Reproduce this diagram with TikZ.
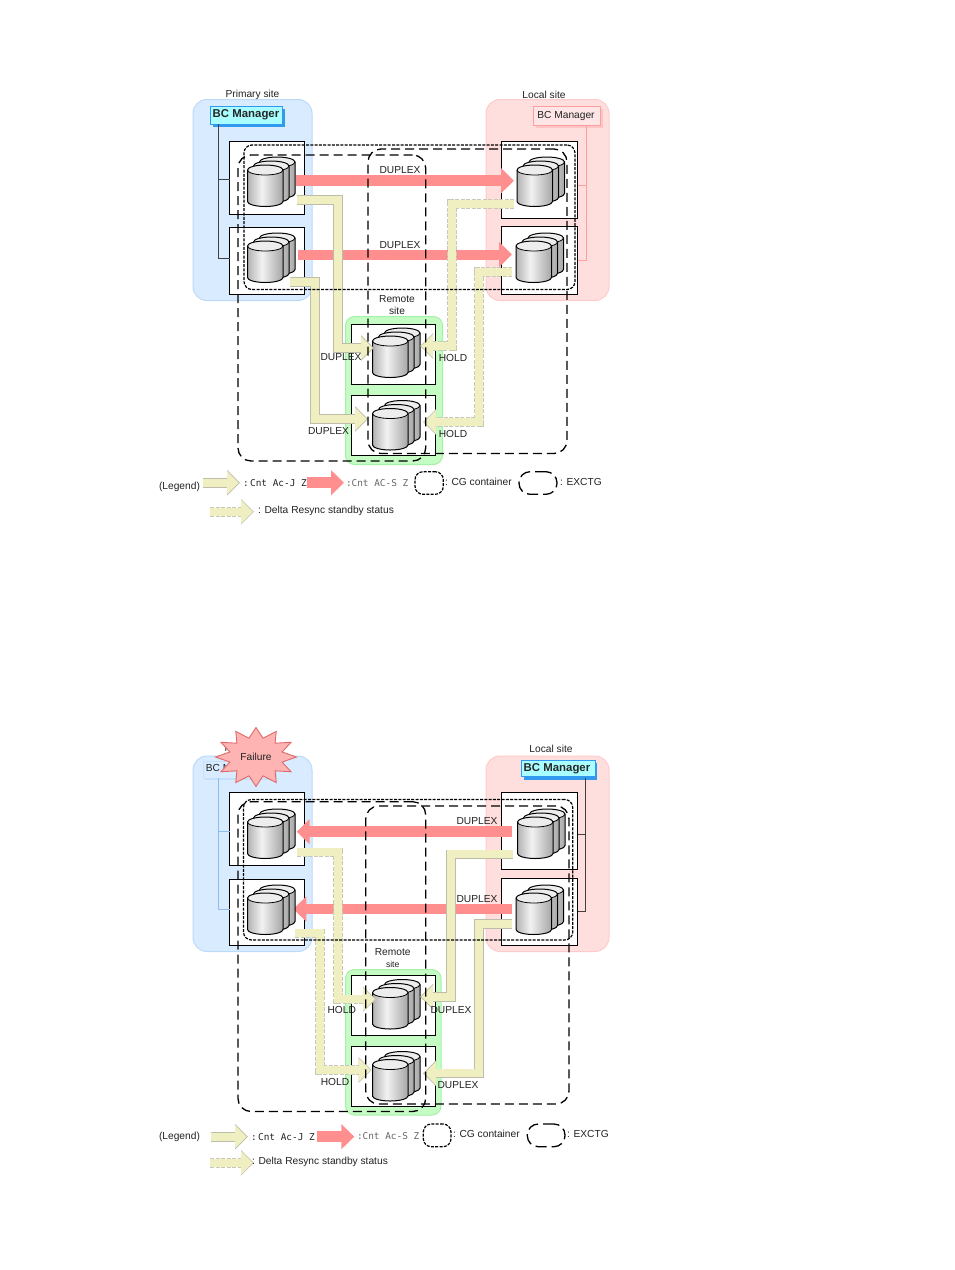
\documentclass[tikz,border=0pt]{standalone}
\usepackage{fontspec}
\setmainfont{Liberation Sans}
\setmonofont{DejaVu Sans Mono}
\usetikzlibrary{arrows.meta}
\definecolor{blueS}{HTML}{D9EBFF}
\definecolor{blueB}{HTML}{BBDAFA}
\definecolor{pinkS}{HTML}{FFDEDE}
\definecolor{pinkB}{HTML}{FFCBCB}
\definecolor{greenS}{HTML}{C4FCC4}
\definecolor{greenB}{HTML}{A8F0A8}
\definecolor{redA}{HTML}{FF8F8F}
\definecolor{yelA}{HTML}{F0EFC2}
\definecolor{yelB}{HTML}{BDBDAA}
\definecolor{yelD}{HTML}{C9C9B8}
\definecolor{cyanM}{HTML}{A9FFFF}
\definecolor{cyanB}{HTML}{3399EE}
\definecolor{paleB}{HTML}{C5E0FB}
\definecolor{paleP}{HTML}{FFE6E6}
\definecolor{pinkL}{HTML}{FF9E9E}
\definecolor{treeB}{HTML}{8DBDF0}
\definecolor{txt}{HTML}{222222}
\definecolor{starF}{HTML}{FFB4B4}
\definecolor{starB}{HTML}{E06A6A}
\pgfdeclarehorizontalshading{cylsh}{100bp}{rgb(0bp)=(.7,.7,.7); rgb(25bp)=(.7,.7,.7); rgb(45bp)=(.95,.95,.95); rgb(75bp)=(.65,.65,.65); rgb(100bp)=(.65,.65,.65)}
\tikzset{
  sitebox/.style={draw,rounded corners=14pt,line width=1pt,inner sep=0pt,outer sep=0pt},
  volbox/.style={draw=black,fill=white,line width=1pt,inner sep=0pt,outer sep=0pt},
  bright/.style={draw=cyanB,fill=cyanM,line width=.6pt,inner sep=0pt,outer sep=0pt},
  lbl/.style={inner sep=0pt,outer sep=0pt,text=txt,font=\fontsize{10.2}{12}\selectfont},
  lblw/.style={lbl,anchor=west},
  monow/.style={inner sep=0pt,outer sep=0pt,anchor=west,text=txt,font=\ttfamily\fontsize{9.4}{11}\selectfont},
  exctg/.style={draw=black,line width=1.3pt,dash pattern=on 9pt off 5pt,rounded corners=13pt,inner sep=0pt,outer sep=0pt},
  legexctg/.style={draw=black,line width=1.3pt,dash pattern=on 11pt off 5pt,rounded corners=11pt,inner sep=0pt,outer sep=0pt},
  cgbox/.style={draw=black,line width=1.2pt,dash pattern=on 3pt off 1.3pt,rounded corners=8pt,inner sep=0pt,outer sep=0pt},
  treeK/.style={draw=black!75,line width=1pt},
  redarrow/.style={draw=redA,line width=10.5pt,-{Triangle[length=13pt,width=24.5pt]}},
  yelout/.style={draw=yelB,line width=9.6pt,line join=miter,-{Triangle[length=13pt,width=25pt]}},
  delout/.style={draw=yelD,line width=9.6pt,line join=miter,dash pattern=on 4pt off 1.5pt,-{Triangle[length=13pt,width=25pt]}},
  yelin/.style={draw=yelA,line width=7.8pt,line join=miter,shorten >=1.4pt,-{Triangle[length=11.4pt,width=22.4pt]}},
  cylone/.pic={
    \path[shading=cylsh] (0,5) -- (0,36.5) .. controls (0,39.26) and (7.95,41.5) .. (17.75,41.5) .. controls (27.55,41.5) and (35.5,39.26) .. (35.5,36.5) -- (35.5,5) .. controls (35.5,2.24) and (27.55,0) .. (17.75,0) .. controls (7.95,0) and (0,2.24) .. (0,5) -- cycle;
    \fill[black!7] (0,5) .. controls (0,7.76) and (7.95,10) .. (17.75,10) .. controls (27.55,10) and (35.5,7.76) .. (35.5,5) .. controls (35.5,2.24) and (27.55,0) .. (17.75,0) .. controls (7.95,0) and (0,2.24) .. (0,5) -- cycle;
    \draw[black,line width=1pt] (0,5) -- (0,36.5) .. controls (0,39.26) and (7.95,41.5) .. (17.75,41.5) .. controls (27.55,41.5) and (35.5,39.26) .. (35.5,36.5) -- (35.5,5) .. controls (35.5,2.24) and (27.55,0) .. (17.75,0) .. controls (7.95,0) and (0,2.24) .. (0,5) -- cycle;
    \draw[black,line width=.8pt] (0,5) .. controls (0,7.76) and (7.95,10) .. (17.75,10) .. controls (27.55,10) and (35.5,7.76) .. (35.5,5);
  },
  cylstack/.pic={
    \pic at (12,-8) {cylone};
    \pic at (6,-4) {cylone};
    \pic at (0,0) {cylone};
  }
}
% name, x1, y1, x2, y2
\newcommand\boxnode[6][]{\node[#1,anchor=north west,minimum width={(#5-#3)*1pt},minimum height={(#6-#4)*1pt}] (#2) at (#3,#4) {};}
\newcommand\yelconn[1]{\draw[yelout] #1; \draw[yelin] #1;}
\newcommand\delconn[1]{\draw[delout] #1; \draw[yelin] #1;}
\begin{document}
\begin{tikzpicture}[x=1pt,y=-1pt]
\useasboundingbox (0,0) rectangle (954,1270);
\fill[white] (0,0) rectangle (954,1270);

%%%%%%%%%%%%%% PANEL 1
\boxnode[sitebox,draw=blueB,fill=blueS]{sA}{193}{99.5}{312}{300.5}
\boxnode[sitebox,draw=pinkB,fill=pinkS]{sB}{486}{99.5}{609}{300.5}
\boxnode[sitebox,draw=greenB,fill=greenS,rounded corners=9pt]{sC}{345.5}{316.5}{442.5}{464.5}
\node[lbl] (tA) at (252.5,95) {Primary site};
\node[lbl] (tB) at (544,95) {Local site};

% BC managers
\fill[cyanB] (213,109) rectangle (285,127);
\boxnode[bright]{bmA}{210}{106}{282}{124}
\node[inner sep=0pt,font=\bfseries\fontsize{11.4}{12}\selectfont,text=black!85] (bmAt) at (246,115) {BC Manager};
\fill[pinkL!60!white] (536,109) rectangle (603,128);
\boxnode[draw=pinkL,fill=paleP,line width=.7pt,inner sep=0pt,outer sep=0pt]{bmB}{533}{106.5}{600}{125}
\node[lbl] (bmBt) at (566,115.5) {BC Manager};

% volume boxes
\boxnode[volbox]{vA1}{229.5}{141}{304.5}{214.5}
\boxnode[volbox]{vA2}{229.5}{227}{304.5}{294}
\boxnode[volbox]{vB1}{501}{141}{577.5}{218}
\boxnode[volbox]{vB2}{501}{226.5}{577.5}{294}
\boxnode[volbox]{vC1}{351}{324}{435}{384.5}
\boxnode[volbox]{vC2}{351}{395.5}{435}{455.5}

% management trees
\coordinate (t1) at (218,124);
\coordinate (j11) at (229.5,179);
\coordinate (j12) at (229.5,258);
\draw[treeK] (t1) |- (j11);
\draw[treeK] (t1) |- (j12);
\coordinate (t2) at (586,126);
\coordinate (j21) at (577.5,185);
\coordinate (j22) at (577.5,260);
\draw[pinkL,line width=.9pt] (t2) |- (j21);
\draw[pinkL,line width=.9pt] (t2) |- (j22);

% red connectors
\coordinate (r1a) at (296,180.7);
\coordinate (r1b) at (514,180.7);
\coordinate (r2a) at (298,254.5);
\coordinate (r2b) at (512,254.5);
\draw[redarrow] (r1a) -- (r1b);
\draw[redarrow,line width=10pt] (r2a) -- (r2b);

% yellow connectors
\coordinate (a1) at (297,200); \coordinate (a2) at (338,200); \coordinate (a3) at (338,348); \coordinate (a4) at (374,348);
\coordinate (b1) at (290,282); \coordinate (b2) at (315,282); \coordinate (b3) at (315,419); \coordinate (b4) at (368,419);
\coordinate (c1) at (514,204); \coordinate (c2) at (451.7,204); \coordinate (c3) at (451.7,346); \coordinate (c4) at (420,346);
\coordinate (d1) at (512,272); \coordinate (d2) at (478.7,272); \coordinate (d3) at (478.7,422); \coordinate (d4) at (423,422);

% cylinders
\pic at (247.5,165) {cylstack};
\pic at (247.5,241) {cylstack};
\pic at (517,165) {cylstack};
\pic at (516,241) {cylstack};
\pic at (372.5,336) {cylstack};
\pic at (372.5,408.5) {cylstack};

\delconn{(c1) -- (c2) -- (c3) -- (c4)}
\delconn{(d1) -- (d2) -- (d3) -- (d4)}
\yelconn{(a1) -- (a2) -- (a3) -- (a4)}
\yelconn{(b1) -- (b2) -- (b3) -- (b4)}

% groups
\boxnode[cgbox]{cgA}{244}{145}{575}{289.5}
\boxnode[exctg]{exA}{238}{155}{425.7}{461}
\boxnode[exctg]{exB}{368}{149}{567}{453.5}

% labels
\node[lbl] (l1) at (400,170) {DUPLEX};
\node[lbl] (l2) at (400,245) {DUPLEX};
\node[lbl] (l3) at (397,299) {Remote};
\node[lbl] (l4) at (397,311) {site};
\node[lbl] (l5) at (341,357.5) {DUPLEX};
\node[lbl] (l6) at (453,357.5) {HOLD};
\node[lbl] (l7) at (328.5,431) {DUPLEX};
\node[lbl] (l8) at (453,433.5) {HOLD};

% legend
\node[lbl] (lgA) at (179.5,486.5) {(Legend)};
\coordinate (la1) at (203,482.7); \coordinate (la2) at (240,482.7);
\yelconn{(la1) -- (la2)}
\node[monow] (lgB) at (243,483) {:\kern1.5pt Cnt Ac-J Z};
\coordinate (lb1) at (306.7,482.7); \coordinate (lb2) at (344,482.7);
\draw[redarrow] (lb1) -- (lb2);
\node[monow,text=black!60] (lgC) at (346,483) {:Cnt AC-S Z};
\boxnode[cgbox]{lgD}{415}{471.7}{443.3}{494.3}
\node[lblw] (lgE) at (445,482) {: CG container};
\boxnode[legexctg]{lgF}{519}{471.7}{557}{494.3}
\node[lblw] (lgG) at (560,482) {: EXCTG};
\coordinate (lc1) at (210,511.7); \coordinate (lc2) at (254,511.7);
\delconn{(lc1) -- (lc2)}
\node[lblw] (lgH) at (258,511) {: Delta Resync standby status};

%%%%%%%%%%%%%% PANEL 2
\boxnode[sitebox,draw=blueB,fill=blueS]{sD}{193}{756}{312}{951.5}
\boxnode[sitebox,draw=pinkB,fill=pinkS]{sE}{486}{756}{609}{951.5}
\boxnode[sitebox,draw=greenB,fill=greenS,rounded corners=9pt]{sF}{345.5}{969.5}{441}{1115}
\node[lbl] (tD) at (251.5,749) {Primary site};
\node[lbl] (tE) at (551,749) {Local site};

% BC managers
\fill[paleB] (205,763) rectangle (277,780);
\boxnode[draw=paleB,fill=blueS,line width=.7pt,inner sep=0pt,outer sep=0pt]{bmD}{203}{761}{275}{778}
\node[lbl] (bmDt) at (234.5,769) {BC Manager};
\fill[cyanB] (523.5,763) rectangle (597,779.5);
\boxnode[bright]{bmE}{521}{760}{595}{776.5}
\node[inner sep=0pt,font=\bfseries\fontsize{11.4}{12}\selectfont,text=black!85] (bmEt) at (557,768.5) {BC Manager};

% volume boxes
\boxnode[volbox]{vD1}{229.5}{792}{304.5}{865.5}
\boxnode[volbox]{vD2}{229.5}{879}{304.5}{945.5}
\boxnode[volbox]{vE1}{501}{792.5}{577.5}{869.5}
\boxnode[volbox]{vE2}{501}{878.5}{577.5}{945.5}
\boxnode[volbox]{vF1}{351}{975}{435}{1035.5}
\boxnode[volbox]{vF2}{351}{1046.5}{435}{1106}

% management trees
\coordinate (t3) at (218.3,778);
\coordinate (j31) at (229.5,831.7);
\coordinate (j32) at (229.5,909);
\draw[treeB,line width=.9pt] (t3) |- (j31);
\draw[treeB,line width=.9pt] (t3) |- (j32);
\coordinate (t4) at (585.7,778);
\coordinate (j41) at (577.5,834.3);
\coordinate (j42) at (577.5,911);
\draw[treeK] (t4) |- (j41);
\draw[treeK] (t4) |- (j42);

% red connectors
\coordinate (r3a) at (511.7,831.7);
\coordinate (r3b) at (296.7,831.7);
\coordinate (r4a) at (511.7,909);
\coordinate (r4b) at (293.3,909);
\draw[redarrow] (r3a) -- (r3b);
\draw[redarrow] (r4a) -- (r4b);

% yellow connectors
\coordinate (e1) at (513,854.3); \coordinate (e2) at (450.7,854.3); \coordinate (e3) at (450.7,996.7); \coordinate (e4) at (420,996.7);
\coordinate (f1) at (512,923.7); \coordinate (f2) at (479,923.7); \coordinate (f3) at (479,1073.3); \coordinate (f4) at (423,1073.3);
\coordinate (g1) at (297,852.3); \coordinate (g2) at (337.7,852.3); \coordinate (g3) at (337.7,999.3); \coordinate (g4) at (376,999.3);
\coordinate (h1) at (295,933.3); \coordinate (h2) at (320,933.3); \coordinate (h3) at (320,1070); \coordinate (h4) at (371.7,1070);

% cylinders
\pic at (247.5,817) {cylstack};
\pic at (247.5,893) {cylstack};
\pic at (517.5,817) {cylstack};
\pic at (516,893) {cylstack};
\pic at (372.5,987.5) {cylstack};
\pic at (372.5,1059.5) {cylstack};

\delconn{(g1) -- (g2) -- (g3) -- (g4)}
\delconn{(h1) -- (h2) -- (h3) -- (h4)}
\yelconn{(e1) -- (e2) -- (e3) -- (e4)}
\yelconn{(f1) -- (f2) -- (f3) -- (f4)}

% groups
\boxnode[cgbox]{cgD}{243.5}{799.5}{572.7}{940}
\boxnode[exctg]{exD}{238}{801.7}{425.7}{1111.5}
\boxnode[exctg]{exE}{365.7}{806}{569}{1104}

% failure star
\draw[fill=starF,draw=starB,line width=.9pt] plot[samples at={0,15,...,345}] ({256+ifthenelse(mod(\x,30)==0,40.5,27)*cos(\x)},{757+ifthenelse(mod(\x,30)==0,29.5,19.5)*sin(\x)}) -- cycle;
\node[lbl] (fail) at (256,757) {Failure};

% labels
\node[lbl] (m1) at (477,821.5) {DUPLEX};
\node[lbl] (m2) at (477,899.5) {DUPLEX};
\node[lbl] (m3) at (392.7,952) {Remote};
\node[lbl,font=\fontsize{8.6}{10}\selectfont] (m4) at (392.7,964) {site};
\node[lbl] (m5) at (341.7,1010) {HOLD};
\node[lbl] (m6) at (451,1010) {DUPLEX};
\node[lbl] (m7) at (335,1081.7) {HOLD};
\node[lbl] (m8) at (458,1085) {DUPLEX};

% legend
\node[lbl] (lgI) at (179.5,1137) {(Legend)};
\coordinate (ld1) at (210.7,1136.7); \coordinate (ld2) at (248,1136.7);
\yelconn{(ld1) -- (ld2)}
\node[monow] (lgJ) at (251,1137) {:\kern1.5pt Cnt Ac-J Z};
\coordinate (le1) at (316.7,1136.7); \coordinate (le2) at (354.3,1136.7);
\draw[redarrow] (le1) -- (le2);
\node[monow,text=black!60] (lgK) at (357,1136) {:Cnt Ac-S Z};
\boxnode[cgbox]{lgL}{423.3}{1124}{451}{1146.7}
\node[lblw] (lgM) at (453,1134) {: CG container};
\boxnode[legexctg]{lgN}{527.3}{1124}{565}{1146.7}
\node[lblw] (lgO) at (567,1134) {: EXCTG};
\coordinate (lf1) at (210,1162.7); \coordinate (lf2) at (254,1162.7);
\delconn{(lf1) -- (lf2)}
\node[lblw] (lgP) at (252,1162) {: Delta Resync standby status};
\end{tikzpicture}
\end{document}
